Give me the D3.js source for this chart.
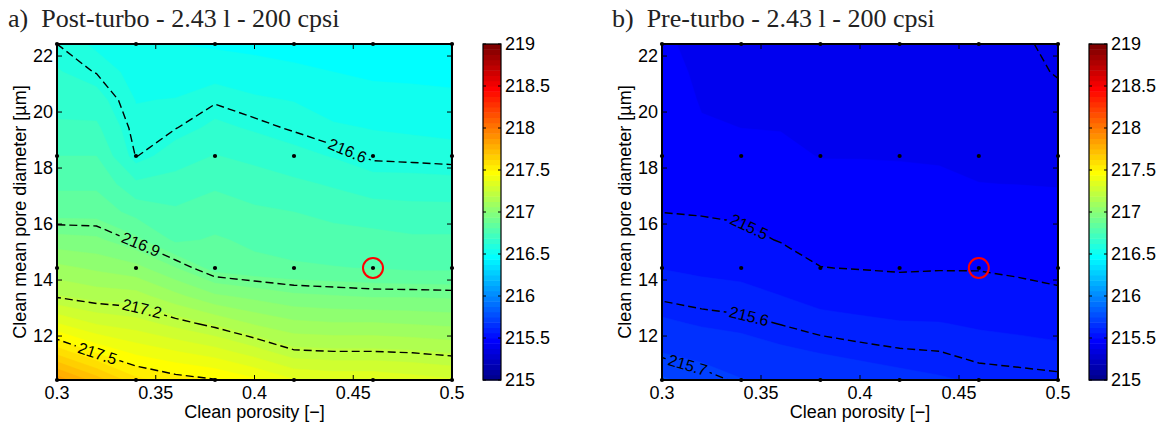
<!DOCTYPE html>
<html><head><meta charset="utf-8">
<script src="https://cdn.jsdelivr.net/npm/d3@7"></script>
<style>body{margin:0;background:#fff}svg{display:block}</style>
</head><body>
<svg id="c" width="1164" height="428"></svg>
<script>
// ---------- data ----------
const gridX = [0.30,0.32,0.34,0.36,0.38,0.40,0.42,0.44,0.46,0.48,0.50];
const gridY = [10.43,11.43,12.43,13.43,14.43,15.43,16.43,17.43,18.43,19.43,20.43,21.43,22.43];
// one array per porosity column (gridX), values from bottom (10.43) to top (22.43)
const postTurbo = [
 [217.85,217.60,217.38,217.19,217.08,216.96,216.85,216.80,216.75,216.70,216.66,216.63,216.60],
 [217.72,217.49,217.31,217.16,217.05,216.95,216.85,216.80,216.75,216.70,216.65,216.597,216.55],
 [217.58,217.42,217.28,217.15,217.02,216.89,216.79,216.70,216.597,216.578,216.56,216.54,216.52],
 [217.53,217.38,217.23,217.08,216.94,216.80,216.76,216.71,216.66,216.598,216.565,216.53,216.50],
 [217.505,217.34,217.18,217.01,216.85,216.82,216.78,216.74,216.69,216.64,216.593,216.54,216.49],
 [217.45,217.28,217.12,216.98,216.83,216.80,216.76,216.72,216.67,216.617,216.57,216.53,216.48],
 [217.38,217.21,217.08,216.95,216.82,216.79,216.75,216.70,216.646,216.593,216.56,216.515,216.47],
 [217.36,217.203,217.07,216.94,216.815,216.78,216.73,216.68,216.62,216.57,216.535,216.50,216.46],
 [217.36,217.203,217.07,216.93,216.81,216.77,216.72,216.65,216.59,216.56,216.52,216.49,216.45],
 [217.34,217.196,217.06,216.93,216.80,216.76,216.71,216.65,216.585,216.555,216.52,216.485,216.45],
 [217.32,217.18,217.05,216.925,216.80,216.76,216.71,216.645,216.58,216.55,216.515,216.48,216.44]
];
const preTurbo = [
 [215.76,215.685,215.636,215.592,215.561,215.53,215.4995,215.49,215.481,215.472,215.463,215.454,215.445],
 [215.72,215.668,215.62,215.583,215.553,215.523,215.496,215.478,215.46,215.4415,215.434,215.429,215.425],
 [215.69,215.651,215.612,215.578,215.547,215.515,215.491,215.473,215.455,215.4374,215.432,215.427,215.422],
 [215.67,215.634,215.599,215.563,215.528,215.497,215.48,215.4635,215.447,215.436,215.43,215.425,215.42],
 [215.66,215.623,215.584,215.5425,215.501,215.484,215.4675,215.451,215.436,215.431,215.427,215.422,215.418],
 [215.65,215.6135,215.575,215.535,215.498,215.482,215.4655,215.449,215.436,215.43,215.426,215.421,215.416],
 [215.64,215.605,215.567,215.527,215.495,215.48,215.464,215.448,215.435,215.429,215.424,215.419,215.414],
 [215.63,215.601,215.565,215.529,215.497,215.479,215.462,215.444,215.434,215.428,215.422,215.416,215.412],
 [215.62,215.587,215.556,215.526,215.497,215.477,215.458,215.438,215.43,215.424,215.418,215.414,215.411],
 [215.615,215.582,215.55,215.517,215.4915,215.473,215.4545,215.437,215.428,215.42,215.415,215.412,215.41],
 [215.61,215.576,215.542,215.508,215.4865,215.469,215.451,215.4354,215.426,215.417,215.41,215.397,215.385]
];
const simPorosity = [0.30,0.34,0.38,0.42,0.46,0.50];
const simDiameter = [10.43,14.43,18.43,22.43];
const highlightPoint = [0.46,14.43];
const postLevels = [216.6,216.9,217.2,217.5];
const preLevels = [215.4,215.5,215.6,215.7];
const postLabels = [{level:216.6,x:0.447},{level:216.9,x:0.3425},{level:217.2,x:0.343},{level:217.5,x:0.3205}];
const preLabels = [{level:215.5,x:0.344},{level:215.6,x:0.344},{level:215.7,x:0.313}];
const xTicks = [0.3,0.35,0.4,0.45,0.5];
const yTicks = [12,14,16,18,20,22];
const cTicks = [215,215.5,216,216.5,217,217.5,218,218.5,219];
const xDomain = [0.3,0.5];
const yDomain = [10.43,22.43];
const cDomain = [215,219];
const titles = ["a)\u00a0 Post-turbo - 2.43 l - 200 cpsi","b)\u00a0 Pre-turbo - 2.43 l - 200 cpsi"];
const xLabel = "Clean porosity [\u2212]";
const yLabel = "Clean mean pore diameter [\u00b5m]";

// ---------- helpers ----------
const svg = d3.select('#c');
const defs = svg.append('defs');
const SANS = "'Liberation Sans', Arial, sans-serif";
const SERIF = "'Liberation Serif', 'Times New Roman', serif";
const nColors = 64;
function jet(t){
  const c = v => Math.max(0, Math.min(1, v));
  return d3.rgb(255*c(Math.min(4*t-1.5,-4*t+4.5)), 255*c(Math.min(4*t-0.5,-4*t+3.5)), 255*c(Math.min(4*t+0.5,-4*t+2.5))).formatHex();
}
const cmap = d3.range(nColors).map(k => jet((k+1)/nColors));
const cStep = (cDomain[1]-cDomain[0])/nColors;
const fillThresholds = d3.range(nColors).map(k => cDomain[0] + k*cStep);

const plotTop = 44, plotBottom = 380;

function drawPanel(cfg){
  const x = d3.scaleLinear().domain(xDomain).range([cfg.left, cfg.right]);
  const y = d3.scaleLinear().domain(yDomain).range([plotBottom, plotTop]);
  const nx = gridX.length, ny = gridY.length;
  const flat = new Array(nx*ny);
  for (let i=0;i<nx;i++) for (let j=0;j<ny;j++) flat[j*nx+i] = cfg.values[i][j];
  const gx = d3.scaleLinear().domain([0.5, nx-0.5]).range([gridX[0], gridX[nx-1]]);
  const gy = d3.scaleLinear().domain([0.5, ny-0.5]).range([gridY[0], gridY[ny-1]]);
  const proj = d3.geoTransform({point(px,py){ this.stream.point(x(gx(px)), y(gy(py))); }});
  const path = d3.geoPath(proj);
  const clipId = 'clip'+cfg.id;
  defs.append('clipPath').attr('id',clipId).append('rect')
    .attr('x',cfg.left).attr('y',plotTop).attr('width',cfg.right-cfg.left).attr('height',plotBottom-plotTop);

  const g = svg.append('g');
  const colorOf = v => cmap[Math.max(0,Math.min(nColors-1,Math.round((v-cDomain[0])/cStep)))];
  // filled contours
  const fills = d3.contours().size([nx,ny]).thresholds(fillThresholds)(flat);
  g.append('g').attr('clip-path',`url(#${clipId})`)
    .selectAll('path').data(fills.filter(d=>d.coordinates.length)).join('path')
    .attr('d',path)
    .attr('fill', d => colorOf(d.value))
    .attr('stroke', d => colorOf(d.value))
    .attr('stroke-width',0.5);

  // contour lines
  const lines = d3.contours().size([nx,ny]).thresholds(cfg.levels)(flat);
  const maskId = 'mask'+cfg.id;
  const mask = defs.append('mask').attr('id',maskId).attr('maskUnits','userSpaceOnUse')
    .attr('x',0).attr('y',0).attr('width',1164).attr('height',428);
  mask.append('rect').attr('x',0).attr('y',0).attr('width',1164).attr('height',428).attr('fill','#fff');
  g.append('g').attr('clip-path',`url(#${clipId})`).append('g').attr('mask',`url(#${maskId})`)
    .selectAll('path').data(lines).join('path')
    .attr('d',path).attr('fill','none').attr('stroke','#000')
    .attr('stroke-width',1.4).attr('stroke-dasharray','8,4');

  // label placement along the contour
  function crossings(contour, px){
    const out = [];
    contour.coordinates.forEach(poly => poly.forEach(ring => {
      for (let i=1;i<ring.length;i++){
        const ax = x(gx(ring[i-1][0])), ay = y(gy(ring[i-1][1]));
        const bx = x(gx(ring[i][0])), by = y(gy(ring[i][1]));
        if ((ax-px)*(bx-px) <= 0 && ax !== bx){
          const t = (px-ax)/(bx-ax); const py = ay + t*(by-ay);
          if (py > plotTop+1 && py < plotBottom-1) out.push(py);
        }
      }
    }));
    return out;
  }
  const labG = g.append('g');
  cfg.labels.forEach(lab => {
    const contour = lines.find(c => c.value === lab.level);
    const px = x(lab.x);
    const c0 = crossings(contour, px);
    if (!c0.length) return;
    const py = c0[0];
    const near = (arr) => arr.reduce((a,b)=>Math.abs(b-py)<Math.abs(a-py)?b:a);
    const l = crossings(contour, px-12), r = crossings(contour, px+12);
    const yl = l.length ? near(l) : py, yr = r.length ? near(r) : py;
    const ang = Math.atan2(yr-yl, 24)*180/Math.PI;
    const t = labG.append('text').attr('x',0).attr('y',0)
      .attr('transform',`translate(${px},${py}) rotate(${ang})`)
      .attr('text-anchor','middle').attr('dominant-baseline','central')
      .attr('font-family',SANS).attr('font-size',16).attr('fill','#000')
      .text(lab.level);
    const w = t.node().getComputedTextLength();
    mask.append('rect').attr('x',-w/2-3).attr('y',-7).attr('width',w+6).attr('height',14)
      .attr('transform',`translate(${px},${py}) rotate(${ang})`).attr('fill','#000');
  });

  // sample points
  const pts = [];
  simPorosity.forEach(p => simDiameter.forEach(d => pts.push([p,d])));
  g.append('g').selectAll('circle').data(pts).join('circle')
    .attr('cx',d=>x(d[0])).attr('cy',d=>y(d[1])).attr('r',2.1).attr('fill','#000');
  g.append('circle').attr('cx',x(highlightPoint[0])).attr('cy',y(highlightPoint[1]))
    .attr('r',10).attr('fill','none').attr('stroke','#f00').attr('stroke-width',2);

  // frame & ticks
  const ax = g.append('g');
  ax.append('rect').attr('x',cfg.left).attr('y',plotTop).attr('width',cfg.right-cfg.left).attr('height',plotBottom-plotTop)
    .attr('fill','none').attr('stroke','#000').attr('stroke-width',2);
  const tl = 5;
  xTicks.forEach(v => {
    ax.append('line').attr('x1',x(v)).attr('x2',x(v)).attr('y1',plotBottom).attr('y2',plotBottom-tl).attr('stroke','#000');
    ax.append('line').attr('x1',x(v)).attr('x2',x(v)).attr('y1',plotTop).attr('y2',plotTop+tl).attr('stroke','#000');
    ax.append('text').attr('x',x(v)).attr('y',plotBottom+19).attr('text-anchor','middle')
      .attr('font-family',SANS).attr('font-size',18).text(v);
  });
  yTicks.forEach(v => {
    ax.append('line').attr('x1',cfg.left).attr('x2',cfg.left+tl).attr('y1',y(v)).attr('y2',y(v)).attr('stroke','#000');
    ax.append('line').attr('x1',cfg.right).attr('x2',cfg.right-tl).attr('y1',y(v)).attr('y2',y(v)).attr('stroke','#000');
    ax.append('text').attr('x',cfg.left-4).attr('y',y(v)).attr('text-anchor','end').attr('dominant-baseline','central')
      .attr('font-family',SANS).attr('font-size',18).text(v);
  });
  ax.append('text').attr('x',(cfg.left+cfg.right)/2).attr('y',418).attr('text-anchor','middle')
    .attr('font-family',SANS).attr('font-size',18).text(xLabel);
  ax.append('text').attr('transform',`translate(${cfg.left-31},${(plotTop+plotBottom)/2}) rotate(-90)`)
    .attr('text-anchor','middle').attr('font-family',SANS).attr('font-size',18).text(yLabel);
  svg.append('text').attr('x',cfg.titleX).attr('y',27).attr('font-family',SERIF).attr('font-size',26)
    .attr('fill','#222').text(cfg.title);

  // colorbar
  const cb = svg.append('g');
  const cy = d3.scaleLinear().domain(cDomain).range([plotBottom, plotTop]);
  cb.selectAll('rect').data(cmap).join('rect')
    .attr('x',cfg.cbLeft).attr('width',18)
    .attr('y',(d,k)=>cy(cDomain[0]+(k+1)*cStep)).attr('height',(d,k)=>cy(cDomain[0]+k*cStep)-cy(cDomain[0]+(k+1)*cStep)+0.5)
    .attr('fill',d=>d);
  cb.append('rect').attr('x',cfg.cbLeft).attr('y',plotTop).attr('width',18).attr('height',plotBottom-plotTop)
    .attr('fill','none').attr('stroke','#000').attr('stroke-width',1.2);
  cTicks.forEach(v => {
    cb.append('line').attr('x1',cfg.cbLeft).attr('x2',cfg.cbLeft+3).attr('y1',cy(v)).attr('y2',cy(v)).attr('stroke','#000');
    cb.append('line').attr('x1',cfg.cbLeft+18).attr('x2',cfg.cbLeft+15).attr('y1',cy(v)).attr('y2',cy(v)).attr('stroke','#000');
    cb.append('text').attr('x',cfg.cbLeft+22).attr('y',cy(v)).attr('dominant-baseline','central')
      .attr('font-family',SANS).attr('font-size',18).text(v);
  });
}

drawPanel({id:'a', left:57, right:452, cbLeft:483, values:postTurbo, levels:postLevels, labels:postLabels, title:titles[0], titleX:8});
drawPanel({id:'b', left:662, right:1058, cbLeft:1089, values:preTurbo, levels:preLevels, labels:preLabels, title:titles[1], titleX:612});
</script>
</body></html>
